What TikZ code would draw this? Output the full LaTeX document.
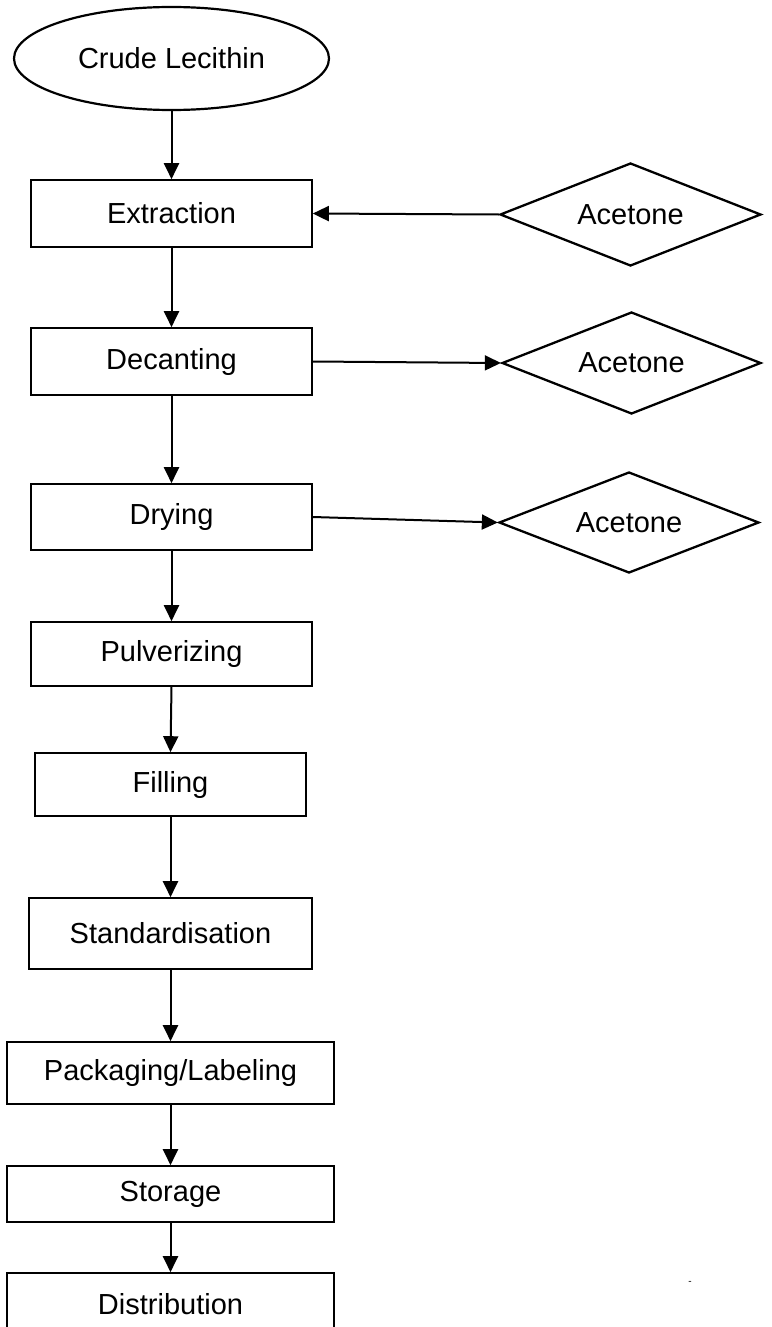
\documentclass[tikz,border=0pt]{standalone}
\usepackage{fontspec}
\setmainfont{Liberation Sans}
\usetikzlibrary{shapes.geometric,arrows.meta}
\begin{document}
\begin{tikzpicture}[x=1pt,y=-1pt,
  lbl/.style={font=\fontsize{29}{34}\selectfont, text=black},
  stepbox/.style={lbl, draw=black, line width=1.6pt, rectangle, inner sep=0pt, fill=white},
  startnode/.style={lbl, draw=black, line width=2.2pt, ellipse, inner sep=0pt, minimum width=315pt, minimum height=103pt},
  solvent/.style={lbl, draw=black, line width=2.3pt, diamond, shape aspect=2.53, inner sep=0pt},
  flow/.style={line width=2pt, -{Triangle[length=16pt,width=15pt]}}
]
\clip (0,0) rectangle (771,1327);
\fill[white] (0,0) rectangle (771,1327);

\node[startnode] (crude) at (171.5,58.5) {Crude Lecithin};
\node[stepbox, minimum width=281pt, minimum height=67pt] (extr) at (171.5,213.5) {Extraction};
\node[stepbox, minimum width=281pt, minimum height=67pt] (dec) at (171.5,361.5) {Decanting};
\node[stepbox, minimum width=281pt, minimum height=66pt] (dry) at (171.5,517) {Drying};
\node[stepbox, minimum width=281pt, minimum height=64pt] (pulv) at (171.5,654) {Pulverizing};
\node[stepbox, minimum width=271pt, minimum height=63pt] (fill) at (170.5,784.5) {Filling};
\node[stepbox, minimum width=283pt, minimum height=71pt] (std) at (170.5,933.5) {Standardisation};
\node[stepbox, minimum width=327pt, minimum height=62pt] (pack) at (170.5,1073) {Packaging/Labeling};
\node[stepbox, minimum width=327pt, minimum height=56pt] (stor) at (170.5,1194) {Storage};
\node[stepbox, minimum width=327pt, minimum height=62pt] (dist) at (170.5,1304) {Distribution};

\node[solvent, minimum width=261pt, minimum height=103pt] (ac1) at (630.5,214.5) {Acetone};
\node[solvent, minimum width=259pt, minimum height=102pt] (ac2) at (631.5,363) {Acetone};
\node[solvent, minimum width=260pt, minimum height=101pt] (ac3) at (629,522.5) {Acetone};

\node[font=\fontsize{10}{12}\selectfont, inner sep=0pt] (dash) at (690,1283) {-};

\draw[flow] (crude.south) -- (extr.north);
\draw[flow] (extr.south) -- (dec.north);
\draw[flow] (dec.south) -- (dry.north);
\draw[flow] (dry.south) -- (pulv.north);
\draw[flow] (pulv.south) -- (fill.north);
\draw[flow] (fill.south) -- (std.north);
\draw[flow] (std.south) -- (pack.north);
\draw[flow] (pack.south) -- (stor.north);
\draw[flow] (stor.south) -- (dist.north);

\draw[flow] (ac1.west) -- (extr.east);
\draw[flow] (dec.east) -- (ac2.west);
\draw[flow] (dry.east) -- (ac3.west);
\end{tikzpicture}
\end{document}
